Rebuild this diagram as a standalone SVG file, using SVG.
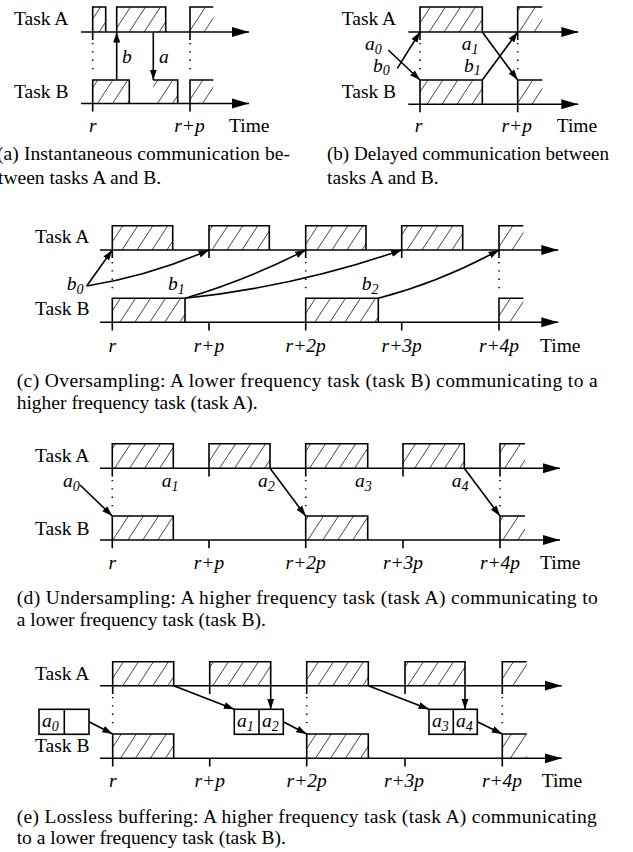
<svg xmlns="http://www.w3.org/2000/svg" width="633" height="852" viewBox="0 0 633 852">
<defs>
<pattern id="hatch" patternUnits="userSpaceOnUse" width="15" height="23">
<path d="M-15,23 L0,0 M0,23 L15,0 M15,23 L30,0" stroke="#444" stroke-width="1" fill="none"/>
</pattern>
<marker id="big" markerUnits="userSpaceOnUse" markerWidth="18" markerHeight="11" refX="17" refY="5.5" orient="auto">
<path d="M0,0.5 L17,5.5 L0,10.5 z" fill="#000"/>
</marker>
<marker id="sm" markerUnits="userSpaceOnUse" markerWidth="11" markerHeight="8" refX="10.5" refY="4" orient="auto">
<path d="M0,0.5 L10.5,4 L0,7.5 z" fill="#000"/>
</marker>
</defs>
<style>
.t{font-family:"Liberation Serif","Times New Roman",serif;font-size:19.5px;fill:#000}
.i{font-style:italic}
.m{text-anchor:middle}
.s{font-size:14px}
.hf{fill:url(#hatch);stroke:none}
.ol{fill:none;stroke:#000;stroke-width:1.6}
.ax{fill:none;stroke:#000;stroke-width:1.6;marker-end:url(#big)}
.tk{stroke:#000;stroke-width:1.6}
.dt{stroke:#000;stroke-width:1.6;stroke-dasharray:1.3 7}
.c{fill:none;stroke:#000;stroke-width:1.6;marker-end:url(#sm)}
.bf{fill:#fff;stroke:#000;stroke-width:1.6}
</style>

<!-- ===== Panel (a) ===== -->
<g id="panel-a">
<g id="a-labels">
<text class="t" x="14" y="25">Task A</text>
<text class="t" x="14" y="98">Task B</text>
</g>
<g id="a-taskA-jobs">
<rect class="hf" x="92.7" y="7" width="13" height="25"/>
<path class="ol" d="M92.7,32 V7 H105.7 V32"/>
<rect class="hf" x="116.7" y="7" width="49" height="25"/>
<path class="ol" d="M116.7,32 V7 H165.7 V32"/>
<rect class="hf" x="190" y="7" width="23.3" height="25"/>
<path class="ol" d="M190,32 V7 H213.3"/>
</g>
<g id="a-taskB-jobs">
<rect class="hf" x="92.7" y="80" width="36.6" height="23.5"/>
<path class="ol" d="M92.7,103.5 V80 H129.3 V103.5"/>
<rect class="hf" x="153.3" y="80" width="24.4" height="23.5"/>
<path class="ol" d="M153.3,80 H177.7 V103.5"/>
<rect class="hf" x="190" y="80" width="23.3" height="23.5"/>
<path class="ol" d="M190,103.5 V80 H213.3"/>
</g>
<g id="a-axes">
<path class="ax" d="M81,32 H249"/>
<path class="ax" d="M81,103.5 H249"/>
<path class="tk" d="M92.7,32 V40 M190,32 V40 M92.7,103.5 V111.5 M190,103.5 V111.5"/>
<path class="dt" d="M92.7,43 V76 M190,43 V76"/>
</g>
<g id="a-connectors">
<path class="c" d="M116.7,80 V32"/>
<path class="c" d="M153.3,32 V80"/>
<text class="t i" x="122" y="63">b</text>
<text class="t i" x="159" y="63">a</text>
</g>
<g id="a-time">
<text class="t i m" x="92.7" y="131.5">r</text>
<text class="t i m" x="189.5" y="131.5">r+p</text>
<text class="t" x="229" y="131.5">Time</text>
</g>
<text class="t" x="-3" y="160" textLength="293" lengthAdjust="spacing">(a) Instantaneous communication be-</text>
<text class="t" x="-2" y="184">tween tasks A and B.</text>
</g>

<!-- ===== Panel (b) ===== -->
<g id="panel-b">
<g id="b-labels">
<text class="t" x="341.7" y="25">Task A</text>
<text class="t" x="341.7" y="98">Task B</text>
</g>
<g id="b-taskA-jobs">
<rect class="hf" x="420" y="7" width="62.3" height="25"/>
<path class="ol" d="M420,32 V7 H482.3 V32"/>
<rect class="hf" x="517.7" y="7" width="24.6" height="25"/>
<path class="ol" d="M517.7,32 V7 H542.3"/>
</g>
<g id="b-taskB-jobs">
<rect class="hf" x="420" y="80" width="62.3" height="24.3"/>
<path class="ol" d="M420,104.3 V80 H482.3 V104.3"/>
<rect class="hf" x="517.7" y="80" width="24.6" height="24.3"/>
<path class="ol" d="M517.7,104.3 V80 H542.3"/>
</g>
<g id="b-axes">
<path class="ax" d="M408.3,32 H578.3"/>
<path class="ax" d="M408.3,104.3 H578.3"/>
<path class="tk" d="M420,32 V40 M517.7,32 V40 M420,104.3 V112.3 M517.7,104.3 V112.3"/>
<path class="dt" d="M420,43 V76 M517.7,43 V76"/>
</g>
<g id="b-connectors">
<path class="c" d="M388.3,50 L420,80"/>
<path class="c" d="M397.3,68.3 L420,32"/>
<path class="c" d="M482.3,32 L517.7,80"/>
<path class="c" d="M482.3,80 L517.7,32"/>
<text class="t i" x="365" y="50">a<tspan class="s" dy="3.5">0</tspan></text>
<text class="t i" x="373" y="71.5">b<tspan class="s" dy="3.5">0</tspan></text>
<text class="t i" x="461.7" y="50">a<tspan class="s" dy="3.5">1</tspan></text>
<text class="t i" x="464" y="71.5">b<tspan class="s" dy="3.5">1</tspan></text>
</g>
<g id="b-time">
<text class="t i m" x="418.5" y="131.5">r</text>
<text class="t i m" x="516.7" y="131.5">r+p</text>
<text class="t" x="556.7" y="131.5">Time</text>
</g>
<text class="t" x="327" y="160" textLength="282" lengthAdjust="spacingAndGlyphs">(b) Delayed communication between</text>
<text class="t" x="327" y="184">tasks A and B.</text>
</g>

<!-- ===== Panel (c) ===== -->
<g id="panel-c">
<g id="c-labels">
<text class="t" x="35" y="243.3">Task A</text>
<text class="t" x="35" y="315">Task B</text>
</g>
<g id="c-taskA-jobs">
<rect class="hf" x="112.3" y="225.7" width="60.4" height="24.3"/>
<path class="ol" d="M112.3,250 V225.7 H172.7 V250"/>
<rect class="hf" x="209" y="225.7" width="60.3" height="24.3"/>
<path class="ol" d="M209,250 V225.7 H269.3 V250"/>
<rect class="hf" x="305.7" y="225.7" width="60.3" height="24.3"/>
<path class="ol" d="M305.7,250 V225.7 H366 V250"/>
<rect class="hf" x="401.7" y="225.7" width="61" height="24.3"/>
<path class="ol" d="M401.7,250 V225.7 H462.7 V250"/>
<rect class="hf" x="499" y="225.7" width="24.3" height="24.3"/>
<path class="ol" d="M499,250 V225.7 H523.3"/>
</g>
<g id="c-taskB-jobs">
<rect class="hf" x="112.3" y="298.3" width="72.7" height="24"/>
<path class="ol" d="M112.3,322.3 V298.3 H185 V322.3"/>
<rect class="hf" x="305.7" y="298.3" width="72.6" height="24"/>
<path class="ol" d="M305.7,322.3 V298.3 H378.3 V322.3"/>
<rect class="hf" x="499" y="298.3" width="24.3" height="24"/>
<path class="ol" d="M499,322.3 V298.3 H523.3"/>
</g>
<g id="c-axes">
<path class="ax" d="M100,250 H558.3"/>
<path class="ax" d="M100,322.3 H558.3"/>
<path class="tk" d="M112.3,250 V258 M209,250 V258 M305.7,250 V258 M401.7,250 V258 M499,250 V258 M112.3,322.3 V330.5 M209,322.3 V330.5 M305.7,322.3 V330.5 M401.7,322.3 V330.5 M499,322.3 V330.5"/>
<path class="dt" d="M112.3,262 V294 M305.7,262 V294 M499,262 V294"/>
</g>
<g id="c-connectors">
<path class="c" d="M86.7,286 L112.3,250"/>
<path class="c" d="M86.7,286 Q150.1,275.7 209,250"/>
<path class="c" d="M185,298.3 Q247.6,279.7 305.7,250"/>
<path class="c" d="M185,298.3 Q296.2,286.5 401.7,250"/>
<path class="c" d="M378.3,298.3 Q441.6,281.6 499,250"/>
<text class="t i" x="66.7" y="290">b<tspan class="s" dy="4">0</tspan></text>
<text class="t i" x="168" y="290">b<tspan class="s" dy="4">1</tspan></text>
<text class="t i" x="361.7" y="290">b<tspan class="s" dy="4">2</tspan></text>
</g>
<g id="c-time">
<text class="t i m" x="112.3" y="352">r</text>
<text class="t i m" x="209" y="352">r+p</text>
<text class="t i m" x="305.7" y="352">r+2p</text>
<text class="t i m" x="401.7" y="352">r+3p</text>
<text class="t i m" x="499" y="352">r+4p</text>
<text class="t" x="540" y="352">Time</text>
</g>
<text class="t" x="16.7" y="386.7" textLength="581" lengthAdjust="spacing">(c) Oversampling: A lower frequency task (task B) communicating to a</text>
<text class="t" x="16.7" y="408.5">higher frequency task (task A).</text>
</g>

<!-- ===== Panel (d) ===== -->
<g id="panel-d">
<g id="d-labels">
<text class="t" x="35" y="461.7">Task A</text>
<text class="t" x="35" y="535">Task B</text>
</g>
<g id="d-taskA-jobs">
<rect class="hf" x="112.3" y="443.7" width="61" height="24.6"/>
<path class="ol" d="M112.3,468.3 V443.7 H173.3 V468.3"/>
<rect class="hf" x="209" y="443.7" width="61" height="24.6"/>
<path class="ol" d="M209,468.3 V443.7 H270 V468.3"/>
<rect class="hf" x="305.7" y="443.7" width="62" height="24.6"/>
<path class="ol" d="M305.7,468.3 V443.7 H367.7 V468.3"/>
<rect class="hf" x="403" y="443.7" width="61.3" height="24.6"/>
<path class="ol" d="M403,468.3 V443.7 H464.3 V468.3"/>
<rect class="hf" x="500" y="443.7" width="25" height="24.6"/>
<path class="ol" d="M500,468.3 V443.7 H525"/>
</g>
<g id="d-taskB-jobs">
<rect class="hf" x="112.3" y="516" width="61" height="24"/>
<path class="ol" d="M112.3,540 V516 H173.3 V540"/>
<rect class="hf" x="305.7" y="516" width="62" height="24"/>
<path class="ol" d="M305.7,540 V516 H367.7 V540"/>
<rect class="hf" x="500" y="516" width="25" height="24"/>
<path class="ol" d="M500,540 V516 H525"/>
</g>
<g id="d-axes">
<path class="ax" d="M100,468.3 H560"/>
<path class="ax" d="M100,540 H560"/>
<path class="tk" d="M112.3,468.3 V476.5 M209,468.3 V476.5 M305.7,468.3 V476.5 M403,468.3 V476.5 M500,468.3 V476.5 M112.3,540 V548.3 M209,540 V548.3 M305.7,540 V548.3 M403,540 V548.3 M500,540 V548.3"/>
<path class="dt" d="M112.3,480 V512 M305.7,480 V512 M500,480 V512"/>
</g>
<g id="d-connectors">
<path class="c" d="M80,485 L112.3,516"/>
<path class="c" d="M270,468.3 L305.7,516"/>
<path class="c" d="M464.3,468.3 L500,516"/>
<text class="t i" x="63" y="487">a<tspan class="s" dy="4">0</tspan></text>
<text class="t i" x="161.7" y="487">a<tspan class="s" dy="4">1</tspan></text>
<text class="t i" x="258" y="487">a<tspan class="s" dy="4">2</tspan></text>
<text class="t i" x="355" y="487">a<tspan class="s" dy="4">3</tspan></text>
<text class="t i" x="451.7" y="487">a<tspan class="s" dy="4">4</tspan></text>
</g>
<g id="d-time">
<text class="t i m" x="112.3" y="569">r</text>
<text class="t i m" x="209" y="569">r+p</text>
<text class="t i m" x="305.7" y="569">r+2p</text>
<text class="t i m" x="403" y="569">r+3p</text>
<text class="t i m" x="500" y="569">r+4p</text>
<text class="t" x="540" y="569">Time</text>
</g>
<text class="t" x="16.7" y="604" textLength="581" lengthAdjust="spacing">(d) Undersampling: A higher frequency task (task A) communicating to</text>
<text class="t" x="16.7" y="626">a lower frequency task (task B).</text>
</g>

<!-- ===== Panel (e) ===== -->
<g id="panel-e">
<g id="e-labels">
<text class="t" x="35" y="680">Task A</text>
<text class="t" x="35" y="751.7">Task B</text>
</g>
<g id="e-taskA-jobs">
<rect class="hf" x="112.7" y="661.7" width="61" height="24"/>
<path class="ol" d="M112.7,685.7 V661.7 H173.7 V685.7"/>
<rect class="hf" x="209.7" y="661.7" width="61" height="24"/>
<path class="ol" d="M209.7,685.7 V661.7 H270.7 V685.7"/>
<rect class="hf" x="306.7" y="661.7" width="61.6" height="24"/>
<path class="ol" d="M306.7,685.7 V661.7 H368.3 V685.7"/>
<rect class="hf" x="405" y="661.7" width="60" height="24"/>
<path class="ol" d="M405,685.7 V661.7 H465 V685.7"/>
<rect class="hf" x="502.3" y="661.7" width="24.4" height="24"/>
<path class="ol" d="M502.3,685.7 V661.7 H526.7"/>
</g>
<g id="e-taskB-jobs">
<rect class="hf" x="112.7" y="734" width="61" height="24.3"/>
<path class="ol" d="M112.7,758.3 V734 H173.7 V758.3"/>
<rect class="hf" x="306.7" y="734" width="61.6" height="24.3"/>
<path class="ol" d="M306.7,758.3 V734 H368.3 V758.3"/>
<rect class="hf" x="502.3" y="734" width="24.4" height="24.3"/>
<path class="ol" d="M502.3,758.3 V734 H526.7"/>
</g>
<g id="e-axes">
<path class="ax" d="M100,685.7 H561.7"/>
<path class="ax" d="M100,758.3 H561.7"/>
<path class="tk" d="M112.7,685.7 V694 M209.7,685.7 V694 M306.7,685.7 V694 M405,685.7 V694 M502.3,685.7 V694 M112.7,758.3 V766.5 M209.7,758.3 V766.5 M306.7,758.3 V766.5 M405,758.3 V766.5 M502.3,758.3 V766.5"/>
<path class="dt" d="M112.7,697 V730 M306.7,697 V730 M502.3,697 V730"/>
</g>
<g id="e-buffer-0">
<rect class="bf" x="39" y="709.3" width="50" height="25"/>
<path class="ol" d="M64.3,709.3 V734.3"/>
<text class="t i" x="42" y="727">a<tspan class="s" dy="4">0</tspan></text>
</g>
<g id="e-buffer-1">
<rect class="bf" x="234.3" y="709.3" width="49" height="25"/>
<path class="ol" d="M259,709.3 V734.3"/>
<text class="t i" x="237" y="727">a<tspan class="s" dy="4">1</tspan></text>
<text class="t i" x="262" y="727">a<tspan class="s" dy="4">2</tspan></text>
</g>
<g id="e-buffer-2">
<rect class="bf" x="429" y="709.3" width="48.3" height="25"/>
<path class="ol" d="M453.3,709.3 V734.3"/>
<text class="t i" x="432" y="727">a<tspan class="s" dy="4">3</tspan></text>
<text class="t i" x="456" y="727">a<tspan class="s" dy="4">4</tspan></text>
</g>
<g id="e-connectors">
<path class="c" d="M89,721.7 L112.7,734"/>
<path class="c" d="M173.7,685.7 L234.3,709.3"/>
<path class="c" d="M270.7,685.7 V709.3"/>
<path class="c" d="M283.3,721.7 L306.7,734"/>
<path class="c" d="M368.3,685.7 L429,709.3"/>
<path class="c" d="M465,685.7 V709.3"/>
<path class="c" d="M477.3,721.7 L502.3,734"/>
</g>
<g id="e-time">
<text class="t i m" x="112.7" y="787">r</text>
<text class="t i m" x="209.7" y="787">r+p</text>
<text class="t i m" x="306.7" y="787">r+2p</text>
<text class="t i m" x="404" y="787">r+3p</text>
<text class="t i m" x="502" y="787">r+4p</text>
<text class="t" x="541.7" y="787">Time</text>
</g>
<text class="t" x="16.7" y="822.5" textLength="580" lengthAdjust="spacing">(e) Lossless buffering: A higher frequency task (task A) communicating</text>
<text class="t" x="16.7" y="844">to a lower frequency task (task B).</text>
</g>
</svg>
